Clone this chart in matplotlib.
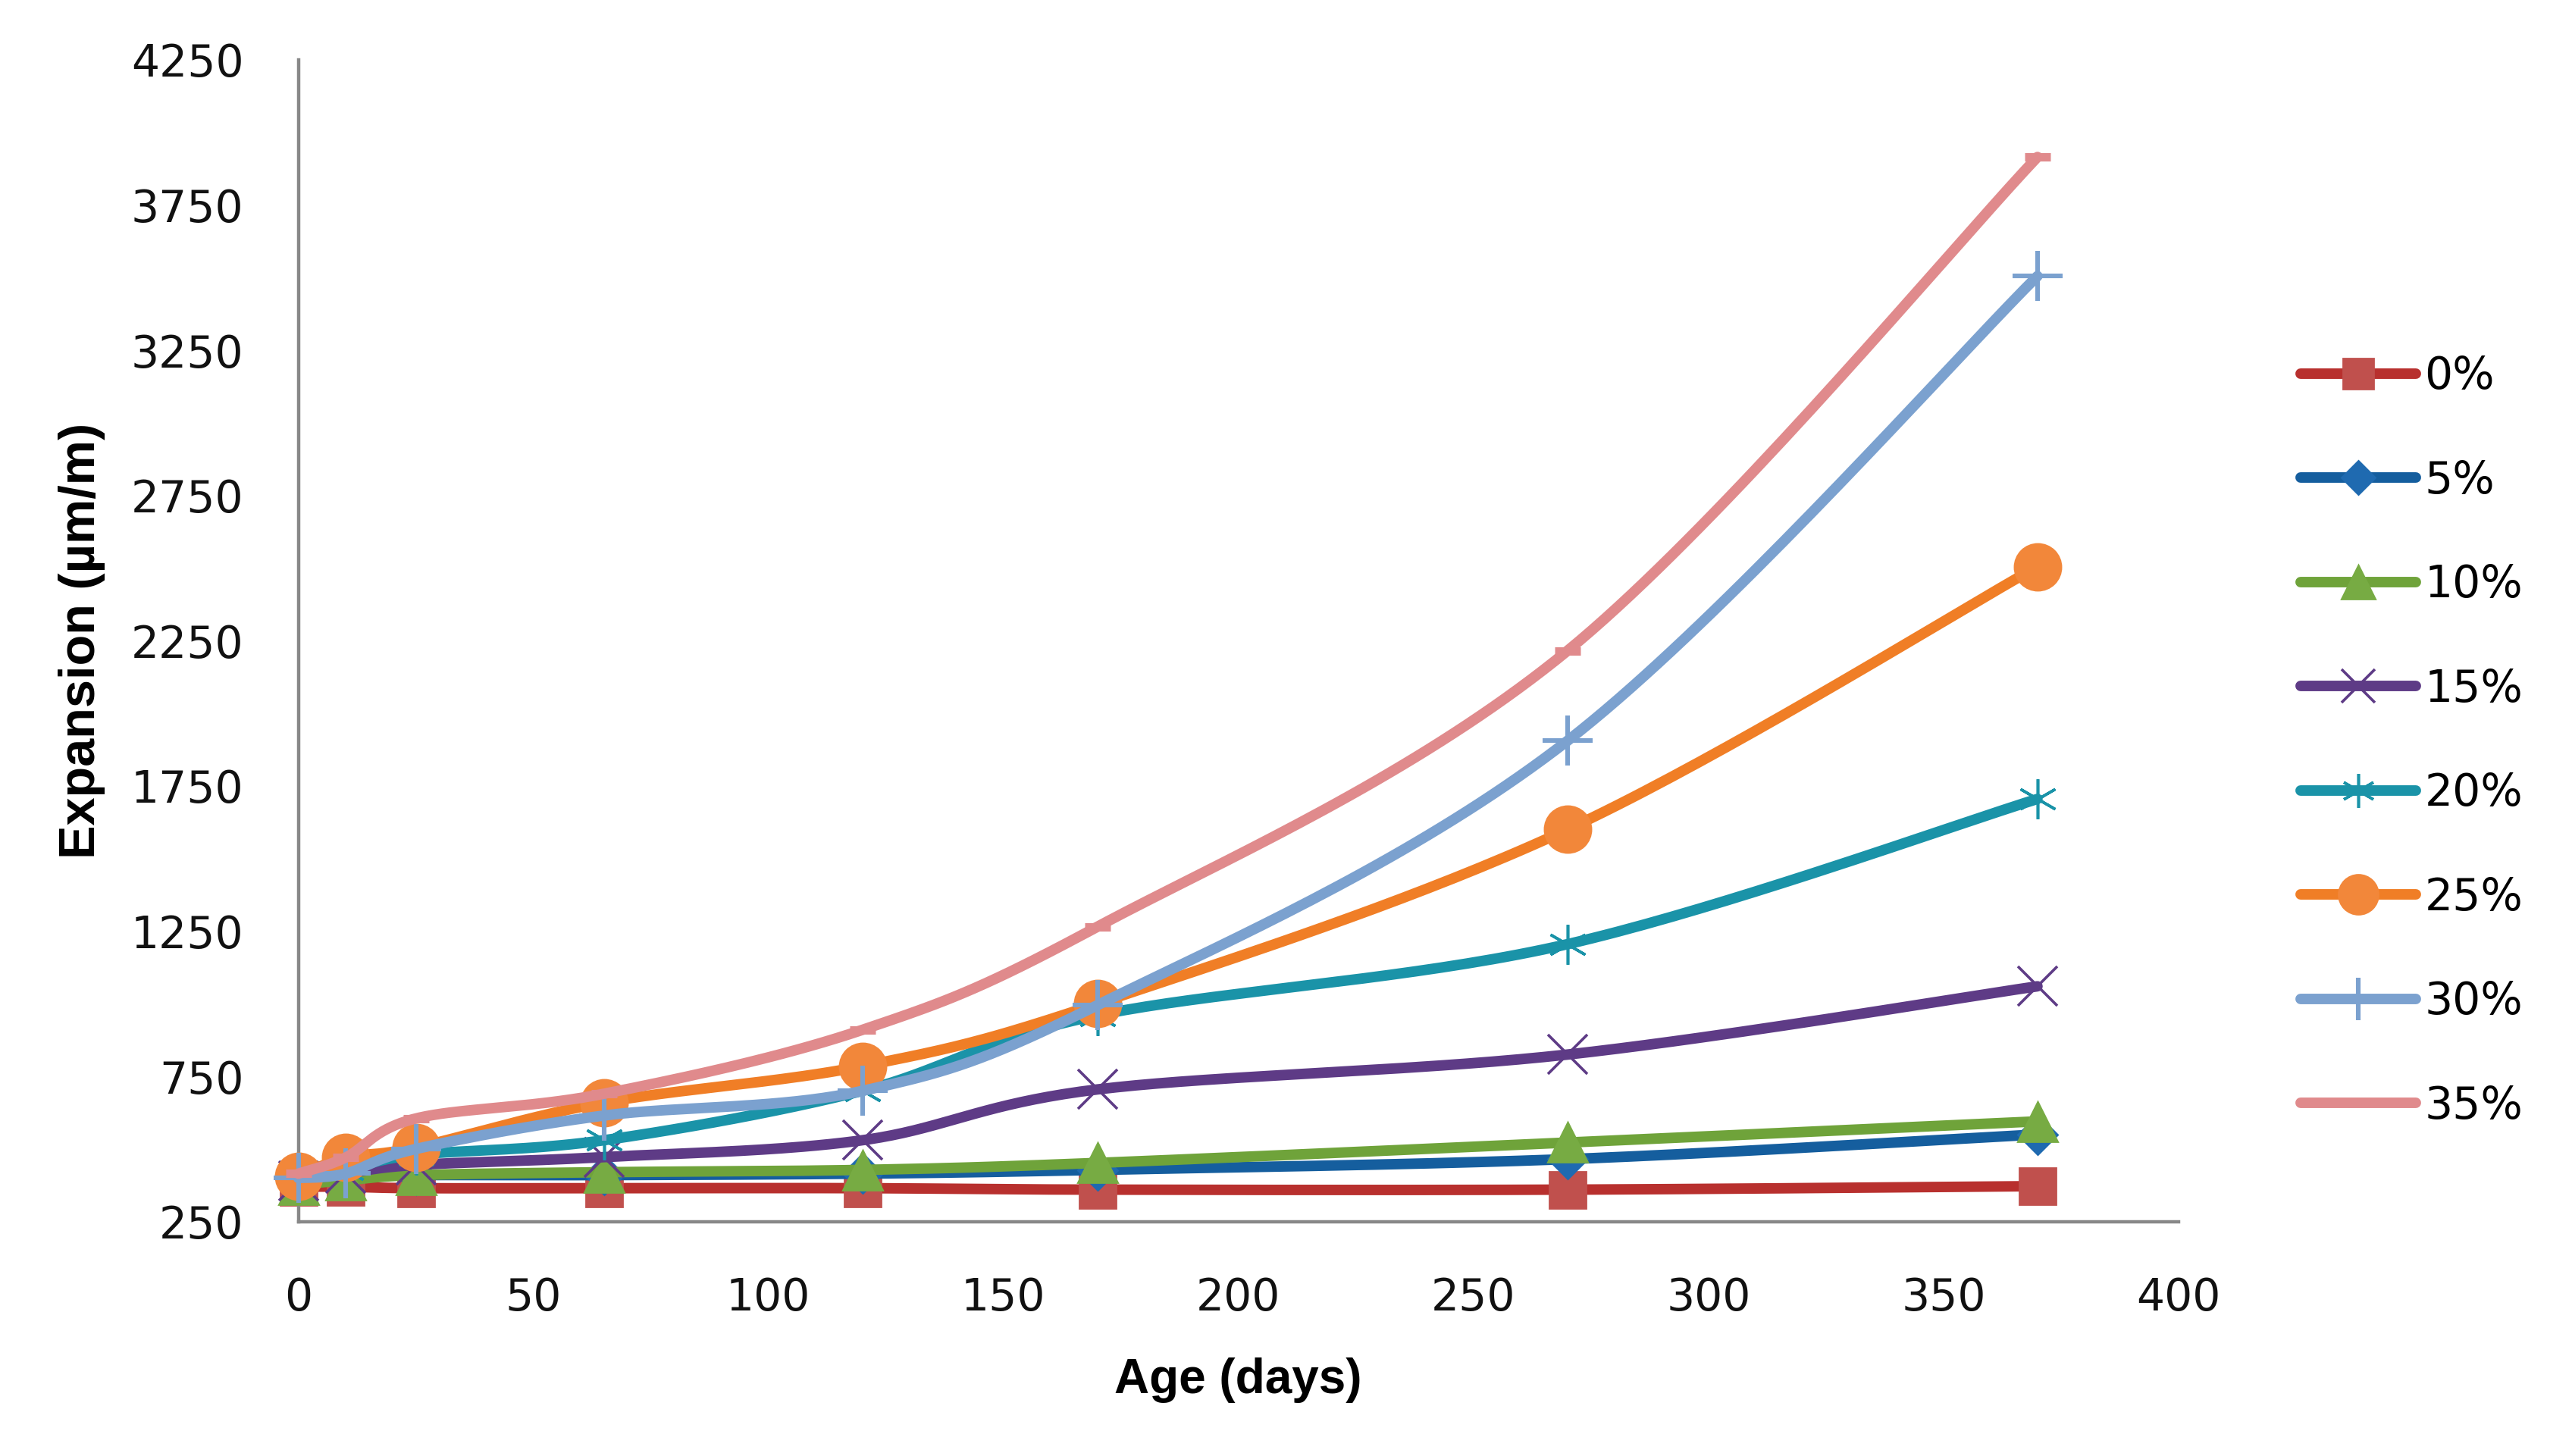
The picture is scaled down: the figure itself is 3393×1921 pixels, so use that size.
import numpy as np
import matplotlib
matplotlib.use("Agg")
import matplotlib.pyplot as plt

# data
age = [0, 10, 25, 65, 120, 170, 270, 370]
labels = ["0%", "5%", "10%", "15%", "20%", "25%", "30%", "35%"]
exp_0 = [370, 370, 365, 365, 365, 360, 360, 372]
exp_5 = [400, 405, 410, 410, 415, 428, 465, 550]
exp_10 = [378, 392, 410, 420, 428, 452, 522, 595]
exp_15 = [390, 415, 445, 472, 530, 705, 825, 1060]
exp_20 = [420, 430, 480, 530, 700, 960, 1205, 1705]
exp_25 = [405, 470, 505, 660, 785, 1000, 1600, 2505]
exp_30 = [400, 415, 500, 615, 700, 995, 1905, 3505]
exp_35 = [415, 470, 605, 690, 910, 1265, 2215, 3915]
series = [exp_0, exp_5, exp_10, exp_15, exp_20, exp_25, exp_30, exp_35]

line_col = ["#B8302E", "#155E9E", "#6FA33A", "#5E3B86", "#1A93A8", "#F07E26", "#7BA1CF", "#E08A8C"]
mark_col = ["#C0504D", "#1F6AB0", "#77AB43", "#5E3B86", "#1A93A8", "#F2873A", "#7BA1CF", "#E08A8C"]
markers = ["s", "D", "^", "x", (6, 2, 0), "o", "+", "_"]
msizes = [17, 13, 19, 19, 19, 22, 24, 12]
mews = [1, 1, 1, 1.3, 1.3, 1, 2.2, 4]

XMIN, XMAX, YMIN, YMAX = 0, 400, 250, 4250


def smooth(xs, ys, W, H, n=40):
    # excel-like smoothed line: cubic bezier, catmull-rom control points, in screen space
    px = np.array(xs, float) / (XMAX - XMIN) * W
    py = (np.array(ys, float) - YMIN) / (YMAX - YMIN) * H
    P = np.column_stack([px, py])
    out = []
    for i in range(len(P) - 1):
        p0 = P[i - 1] if i > 0 else P[i]
        p1 = P[i]
        p2 = P[i + 1]
        p3 = P[i + 2] if i + 2 < len(P) else P[i + 1]
        c1 = p1 + (p2 - p0) / 6.0
        c2 = p2 - (p3 - p1) / 6.0
        t = np.linspace(0, 1, n)[:, None]
        seg = (1 - t) ** 3 * p1 + 3 * (1 - t) ** 2 * t * c1 + 3 * (1 - t) * t ** 2 * c2 + t ** 3 * p2
        out.append(seg if i == 0 else seg[1:])
    out = np.vstack(out)
    return out[:, 0] / W * (XMAX - XMIN), out[:, 1] / H * (YMAX - YMIN) + YMIN


plt.rcParams['font.family'] = ['DejaVu Sans']
fig = plt.figure(figsize=(16.965, 9.605), dpi=200)
ax = fig.add_axes([0.116, 0.161, 0.731, 0.798])
W = 0.731 * 16.965
H = 0.798 * 9.605

LW = 5.0
handles = []
for k in range(len(series)):
    sx, sy = smooth(age, series[k], W, H)
    ax.plot(sx, sy, '-', color=line_col[k], lw=LW, solid_capstyle='round', clip_on=False, zorder=2 + k)
    ax.plot(age, series[k], linestyle='none', marker=markers[k], ms=msizes[k],
            mfc=mark_col[k], mec=mark_col[k], mew=mews[k], clip_on=False, zorder=2 + k)
    h, = ax.plot([], [], '-', color=line_col[k], lw=LW, marker=markers[k],
                 ms=msizes[k] * 0.85, mfc=mark_col[k], mec=mark_col[k], mew=mews[k],
                 solid_capstyle='round', label=labels[k])
    handles.append(h)

ax.set_xlim(XMIN, XMAX)
ax.set_ylim(YMIN, YMAX)
ax.set_xticks(np.arange(0, 401, 50))
ax.set_yticks(np.arange(250, 4251, 500))
ax.tick_params(length=0, labelsize=21, colors='#111111')
ax.tick_params(axis='y', pad=26)
ax.tick_params(axis='x', pad=26)
for s in ['top', 'right']:
    ax.spines[s].set_visible(False)
for s in ['left', 'bottom']:
    ax.spines[s].set_color('#888888')
    ax.spines[s].set_linewidth(1.6)

ax.set_xlabel("Age (days)", fontsize=23, fontweight='bold', family='Liberation Sans', labelpad=18)
ax.set_ylabel("Expansion (\u00b5m/m)", fontsize=24, fontweight='bold', family='Liberation Sans', labelpad=12)

fig.legend(handles=handles, loc='center left', bbox_to_anchor=(0.879, 0.491), frameon=False,
           fontsize=21, handlelength=2.6, labelspacing=1.38, handletextpad=0.2)

fig.savefig("out.png", dpi=200)
